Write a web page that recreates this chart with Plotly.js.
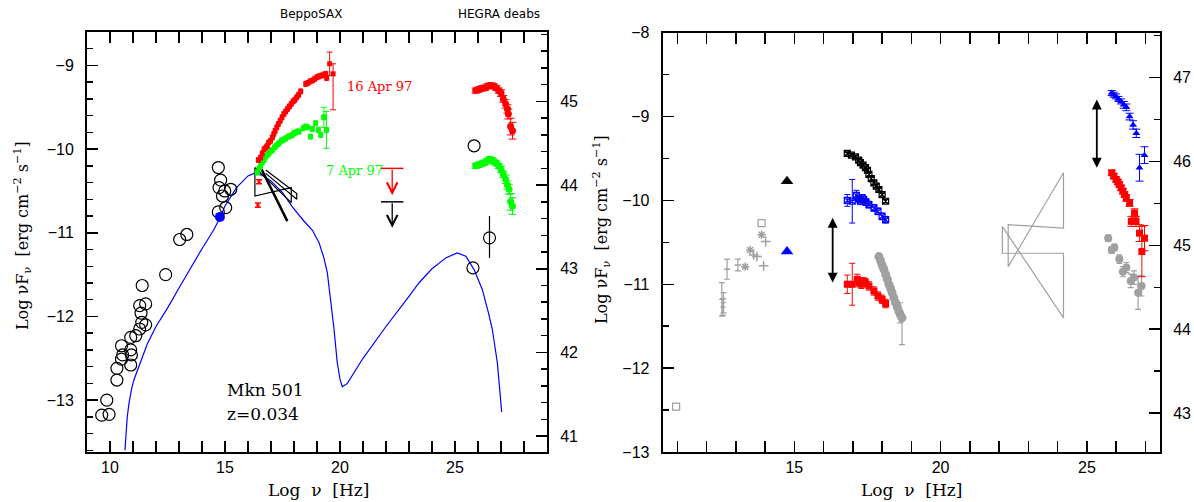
<!DOCTYPE html>
<html>
<head>
<meta charset="utf-8">
<script src="https://cdn.plot.ly/plotly-3.0.1.min.js"></script>
<style>html,body{margin:0;padding:0;background:#fff;}#chart{width:1194px;height:502px;}</style>
</head>
<body>
<div id="chart"></div>
<script>
// ---------------- LEFT PANEL DATA ----------------
const radioX = [9.64,9.96,9.86,10.3,10.3,10.5,10.5,10.55,10.9,10.93,10.9,10.9,11.12,11.29,11.38,11.55,11.35,11.29,11.55,11.4,12.42,13.03,13.34,14.71,14.81,14.74,15.25,14.99,14.89,15.03,14.71];
const radioY = [-13.18,-13.17,-13.0,-12.76,-12.62,-12.51,-12.35,-12.46,-12.40,-12.46,-12.58,-12.25,-12.23,-12.15,-12.07,-12.1,-11.96,-11.87,-11.85,-11.63,-11.5,-11.08,-11.02,-10.22,-10.37,-10.46,-10.48,-10.5,-10.56,-10.70,-10.75];
const optBlueX = [14.78];
const optBlueY = [-10.81];
const gammaCircX = [25.83,25.78,26.5];
const gammaCircY = [-9.96,-11.42,-11.06];
const gammaCircErrUp = [0,0,0.26];
const gammaCircErrDn = [0,0,0.24];

const modelX = [10.65,10.75,10.83,10.95,11.05,11.19,11.4,11.62,12.0,12.5,13.0,13.5,14.0,14.52,14.78,15.0,15.5,16.0,16.26,16.6,17.0,17.5,17.93,18.4,18.8,19.09,19.3,19.45,19.6,19.74,19.88,20.0,20.1,20.32,21.0,22.0,23.0,23.43,24.0,24.6,25.1,25.47,25.83,26.19,26.45,26.62,26.84,26.95,27.03];
const modelY = [-13.6,-13.2,-13.03,-12.85,-12.75,-12.65,-12.5,-12.33,-12.12,-11.9,-11.66,-11.42,-11.19,-10.96,-10.82,-10.68,-10.46,-10.32,-10.29,-10.31,-10.38,-10.52,-10.69,-10.85,-10.97,-11.12,-11.3,-11.48,-11.8,-12.15,-12.55,-12.75,-12.84,-12.80,-12.5,-12.12,-11.76,-11.60,-11.43,-11.30,-11.24,-11.28,-11.44,-11.68,-11.95,-12.15,-12.55,-12.85,-13.14];

const saxRedX = [16.45,16.55,16.62,16.7,16.78,16.84,16.9,16.98,17.06,17.12,17.18,17.25,17.32,17.4,17.48,17.56,17.64,17.72,17.8,17.88,17.96,18.04,18.12,18.2,18.29,18.51,18.6,18.7,18.8,18.9,19.0,19.09,19.2,19.3,19.38,19.42];
const saxRedY = [-10.13,-10.10,-10.05,-10.0,-9.98,-9.96,-9.92,-9.90,-9.86,-9.82,-9.78,-9.74,-9.70,-9.66,-9.62,-9.58,-9.55,-9.52,-9.49,-9.46,-9.43,-9.41,-9.38,-9.35,-9.31,-9.22,-9.21,-9.19,-9.18,-9.16,-9.14,-9.13,-9.12,-9.11,-9.10,-9.15];
const saxRedEndX = [19.55,19.7];
const saxRedEndY = [-8.98,-9.10];
const saxRedEndUp = [0.14,0.12];
const saxRedEndDn = [0.14,0.43];
const saxRedLowX = [16.48,16.43];
const saxRedLowY = [-10.39,-10.67];

const saxGreenX = [16.4,16.48,16.55,16.62,16.7,16.77,16.85,16.92,17.0,17.06,17.15,17.22,17.3,17.35,17.45,17.52,17.6,17.64,17.76,17.84,17.93,18.0,18.08,18.16,18.22,18.4,18.51,18.6,18.72,18.8,18.94,19.06,19.16,19.3,19.41];
const saxGreenY = [-10.28,-10.23,-10.2,-10.16,-10.13,-10.09,-10.07,-10.05,-10.02,-10.01,-9.98,-9.96,-9.94,-9.93,-9.90,-9.89,-9.88,-9.87,-9.85,-9.84,-9.83,-9.81,-9.80,-9.79,-9.79,-9.75,-9.73,-9.74,-9.85,-9.76,-9.69,-9.77,-9.83,-9.62,-9.77];
const saxGreenEndX = [19.3,19.41];
const saxGreenEndY = [-9.62,-9.77];
const saxGreenEndErr = [0.12,0.22];

const hegraRedX = [25.9,26.0,26.1,26.2,26.3,26.4,26.5,26.6,26.7,26.8,26.9,27.0,27.1,27.2,27.28,27.32,27.42,27.5];
const hegraRedY = [-9.30,-9.29,-9.28,-9.27,-9.27,-9.25,-9.24,-9.24,-9.25,-9.27,-9.30,-9.33,-9.40,-9.46,-9.52,-9.58,-9.73,-9.78];
const hegraRedErr = [0.03,0.03,0.03,0.03,0.03,0.03,0.03,0.03,0.03,0.03,0.03,0.04,0.04,0.05,0.05,0.06,0.1,0.1];
const hegraGreenX = [25.9,26.0,26.1,26.2,26.3,26.4,26.5,26.6,26.7,26.8,26.9,27.0,27.1,27.2,27.28,27.35,27.42,27.5];
const hegraGreenY = [-10.2,-10.19,-10.18,-10.17,-10.16,-10.14,-10.12,-10.13,-10.15,-10.17,-10.2,-10.24,-10.3,-10.36,-10.43,-10.48,-10.63,-10.68];
const hegraGreenErr = [0.03,0.03,0.03,0.03,0.03,0.03,0.03,0.03,0.03,0.03,0.03,0.04,0.04,0.05,0.05,0.06,0.1,0.1];

const bowtie1X = [16.30,17.88,17.88,16.30,16.30];
const bowtie1Y = [-10.22,-10.64,-10.46,-10.56,-10.22];
const bowtie2X = [16.77,18.12,18.12,16.77];
const bowtie2Y = [-10.25,-10.53,-10.60,-10.29];
const slopeLineX = [16.59,17.71];
const slopeLineY = [-10.24,-10.86];

const ulimX = [22.27,22.27];
const ulimTop = [-10.23,-10.63];
const ulimHead = [-10.55,-10.94];
const ulimColor = ['#ff0000','#000000'];

// ---------------- RIGHT PANEL DATA ----------------
const rGreySqX = [10.96,13.88];
const rGreySqY = [-12.46,-10.27];
const rGreyErrX = [12.52,12.56,12.58,12.70,13.07];
const rGreyErrY = [-11.18,-11.27,-11.22,-10.82,-10.77];
const rGreyErrV = [0.2,0.1,0.12,0.12,0.07];
const rGreyErrH = [0.05,0.05,0.05,0.1,0.12];
const rGreyStarX = [13.32,13.88,13.49];
const rGreyStarY = [-10.79,-10.41,-10.59];
const rGreyPlusX = [13.95,14.02,13.61,13.72];
const rGreyPlusY = [-10.78,-10.49,-10.65,-10.67];
const rTriBlackX = [14.75];
const rTriBlackY = [-9.77];
const rTriBlueX = [14.75];
const rTriBlueY = [-10.61];

const rXBlackX = [16.81,16.95,17.09,17.2,17.26,17.35,17.43,17.5,17.55,17.63,17.72,17.8,17.89,18.0,18.12];
const rXBlackY = [-9.44,-9.46,-9.48,-9.52,-9.55,-9.58,-9.61,-9.64,-9.69,-9.74,-9.79,-9.83,-9.87,-9.93,-10.01];
const rXBlueX = [16.81,16.98,17.12,17.2,17.26,17.32,17.37,17.45,17.55,17.72,17.86,18.0,18.12];
const rXBlueY = [-10.0,-10.01,-9.94,-9.98,-10.01,-9.97,-9.99,-10.02,-10.05,-10.09,-10.13,-10.19,-10.23];
const rXBlueErr = [0.07,0.26,0.06,0.04,0.04,0.04,0.04,0.04,0.04,0.04,0.04,0.04,0.04];
const rXRedX = [16.81,16.98,17.15,17.22,17.29,17.36,17.43,17.55,17.72,17.86,18.0,18.12];
const rXRedY = [-11.0,-11.0,-10.94,-10.98,-11.0,-10.97,-10.98,-11.02,-11.08,-11.14,-11.18,-11.23];
const rXRedErr = [0.11,0.25,0.06,0.05,0.05,0.05,0.05,0.05,0.05,0.05,0.05,0.05];
const rGreyCircX = [17.89,17.95,18.0,18.06,18.12,18.18,18.23,18.29,18.34,18.4,18.46,18.52,18.57,18.62,18.68];
const rGreyCircY = [-10.67,-10.72,-10.77,-10.82,-10.88,-10.94,-11.0,-11.05,-11.10,-11.16,-11.22,-11.27,-11.32,-11.36,-11.40];
const rGreyCircErrUp = [0,0,0,0,0,0,0,0,0,0,0,0,0,0.14,0.0];
const rGreyCircErrDn = [0,0,0,0,0,0,0,0,0,0,0,0,0,0.1,0.32];

const rBowtie1X = [22.11,24.2,24.2,22.11,22.11];
const rBowtie1Y = [-10.31,-11.40,-10.63,-10.63,-10.31];
const rBowtie2X = [22.31,24.2,24.2,22.31,22.31];
const rBowtie2Y = [-10.79,-9.67,-10.33,-10.29,-10.79];

const rHBlueX = [25.85,25.92,26.0,26.08,26.17,26.26,26.35,26.46,26.58,26.69,26.8,26.97];
const rHBlueY = [-8.72,-8.74,-8.76,-8.79,-8.82,-8.86,-8.89,-9.0,-9.10,-9.20,-9.61,-9.46];
const rHBlueErr = [0.03,0.03,0.03,0.03,0.03,0.04,0.04,0.04,0.05,0.05,0.16,0.1];
const rHRedX = [25.85,25.92,26.0,26.06,26.11,26.17,26.23,26.29,26.35,26.46,26.52,26.63,26.68,26.8,26.97,26.88];
const rHRedY = [-9.67,-9.71,-9.75,-9.78,-9.81,-9.85,-9.89,-9.93,-9.97,-10.03,-10.25,-10.15,-10.25,-10.39,-10.45,-10.61];
const rHRedErr = [0.03,0.03,0.03,0.03,0.03,0.03,0.03,0.03,0.04,0.04,0.06,0.05,0.06,0.1,0.15,0.3];
const rHGreyX = [25.73,25.85,25.94,26.11,26.23,26.35,26.5,26.61,26.75,26.87];
const rHGreyY = [-10.45,-10.59,-10.56,-10.70,-10.85,-10.80,-10.96,-10.92,-11.10,-11.02];
const rHGreyErr = [0.04,0.04,0.04,0.05,0.06,0.06,0.08,0.08,0.2,0.12];

const dblArrowX = [16.31,25.34];
const dblArrowTop = [-10.19,-8.78];
const dblArrowBot = [-10.98,-9.61];

// ---------------- TRACES ----------------
const GREY = '#a0a0a0';
const t = [];
function sc(o){ t.push(Object.assign({type:'scatter', hoverinfo:'skip', showlegend:false, cliponaxis:false}, o)); }

// left panel
sc({x:modelX, y:modelY, mode:'lines', line:{color:'#0000ff', width:1.2}, xaxis:'x', yaxis:'y'});
sc({x:radioX, y:radioY, mode:'markers', marker:{symbol:'circle-open', size:12, color:'#000', line:{width:1.2, color:'#000'}}, xaxis:'x', yaxis:'y'});
sc({x:optBlueX, y:optBlueY, mode:'markers', marker:{symbol:'circle', size:10, color:'#0000ff'}, xaxis:'x', yaxis:'y'});
sc({x:gammaCircX, y:gammaCircY, mode:'markers', marker:{symbol:'circle-open', size:12, color:'#000', line:{width:1.2,color:'#000'}},
    error_y:{type:'data', symmetric:false, array:gammaCircErrUp, arrayminus:gammaCircErrDn, color:'#000', thickness:1.2, width:0}, xaxis:'x', yaxis:'y'});
sc({x:bowtie1X, y:bowtie1Y, mode:'lines', line:{color:'#000', width:1.2}, xaxis:'x', yaxis:'y'});
sc({x:bowtie2X, y:bowtie2Y, mode:'lines', line:{color:'#000', width:1.2}, xaxis:'x', yaxis:'y'});
sc({x:slopeLineX, y:slopeLineY, mode:'lines', line:{color:'#000', width:2.5}, xaxis:'x', yaxis:'y'});
sc({x:saxGreenX, y:saxGreenY, mode:'markers', marker:{symbol:'square', size:5, color:'#00ff00'},
    error_y:{type:'constant', value:0.03, color:'#00ff00', thickness:1, width:2}, error_x:{type:'constant', value:0.04, color:'#00ff00', thickness:1, width:0}, xaxis:'x', yaxis:'y'});
sc({x:saxGreenEndX, y:saxGreenEndY, mode:'markers', marker:{symbol:'square', size:5, color:'#00ff00'},
    error_y:{type:'data', array:saxGreenEndErr, color:'#00ff00', thickness:1, width:3}, xaxis:'x', yaxis:'y'});
sc({x:saxRedX, y:saxRedY, mode:'markers', marker:{symbol:'square', size:5, color:'#ff0000'},
    error_y:{type:'constant', value:0.03, color:'#ff0000', thickness:1, width:2}, error_x:{type:'constant', value:0.04, color:'#ff0000', thickness:1, width:0}, xaxis:'x', yaxis:'y'});
sc({x:saxRedEndX, y:saxRedEndY, mode:'markers', marker:{symbol:'square', size:5, color:'#ff0000'},
    error_y:{type:'data', symmetric:false, array:saxRedEndUp, arrayminus:saxRedEndDn, color:'#ff0000', thickness:1, width:3}, xaxis:'x', yaxis:'y'});
sc({x:saxRedLowX, y:saxRedLowY, mode:'markers', marker:{symbol:'square', size:3, color:'#ff0000'},
    error_y:{type:'constant', value:0.025, color:'#ff0000', thickness:1.5, width:3}, xaxis:'x', yaxis:'y'});
sc({x:hegraRedX, y:hegraRedY, mode:'markers', marker:{symbol:'circle', size:7, color:'#ff0000'},
    error_y:{type:'data', array:hegraRedErr, color:'#ff0000', thickness:1, width:4}, xaxis:'x', yaxis:'y'});
sc({x:hegraGreenX, y:hegraGreenY, mode:'markers', marker:{symbol:'circle', size:7, color:'#00ff00'},
    error_y:{type:'data', array:hegraGreenErr, color:'#00ff00', thickness:1, width:4}, xaxis:'x', yaxis:'y'});
for (let i=0;i<ulimX.length;i++){
  sc({x:[ulimX[i]], y:[ulimTop[i]], mode:'markers', marker:{symbol:'line-ew', size:16, color:ulimColor[i], line:{width:1.5, color:ulimColor[i]}}, xaxis:'x', yaxis:'y'});
}
// dummy for luminosity axis
sc({x:[null], y:[null], mode:'markers', xaxis:'x', yaxis:'y3'});

// right panel
sc({x:rBowtie1X, y:rBowtie1Y, mode:'lines', line:{color:GREY, width:1.2}, xaxis:'x2', yaxis:'y2'});
sc({x:rBowtie2X, y:rBowtie2Y, mode:'lines', line:{color:GREY, width:1.2}, xaxis:'x2', yaxis:'y2'});
sc({x:rGreySqX, y:rGreySqY, mode:'markers', marker:{symbol:'square-open', size:7, color:GREY, line:{width:1.2,color:GREY}}, xaxis:'x2', yaxis:'y2'});
sc({x:rGreyErrX, y:rGreyErrY, mode:'markers', marker:{symbol:'line-ew', size:4, color:GREY, line:{width:1, color:GREY}},
    error_y:{type:'data', array:rGreyErrV, color:GREY, thickness:1.2, width:3}, error_x:{type:'data', array:rGreyErrH, color:GREY, thickness:1.2, width:0}, xaxis:'x2', yaxis:'y2'});
sc({x:rGreyStarX, y:rGreyStarY, mode:'markers', marker:{symbol:'asterisk-open', size:7, color:GREY, line:{width:1.5, color:GREY}}, xaxis:'x2', yaxis:'y2'});
sc({x:rGreyPlusX, y:rGreyPlusY, mode:'markers', marker:{symbol:'cross-thin-open', size:7, color:GREY, line:{width:1.5, color:GREY}}, xaxis:'x2', yaxis:'y2'});
sc({x:rTriBlackX, y:rTriBlackY, mode:'markers', marker:{symbol:'triangle-up', size:11, color:'#000'}, xaxis:'x2', yaxis:'y2'});
sc({x:rTriBlueX, y:rTriBlueY, mode:'markers', marker:{symbol:'triangle-up', size:11, color:'#0000ff'}, xaxis:'x2', yaxis:'y2'});
sc({x:rXBlackX, y:rXBlackY, mode:'markers', marker:{symbol:'square-x-open', size:6, color:'#000', line:{width:1.2,color:'#000'}},
    error_y:{type:'constant', value:0.02, color:'#000', thickness:1, width:2}, xaxis:'x2', yaxis:'y2'});
sc({x:rXBlueX, y:rXBlueY, mode:'markers', marker:{symbol:'square-x-open', size:6, color:'#0000ff', line:{width:1.2,color:'#0000ff'}},
    error_y:{type:'data', array:rXBlueErr, color:'#0000ff', thickness:1, width:3}, xaxis:'x2', yaxis:'y2'});
sc({x:rXRedX, y:rXRedY, mode:'markers', marker:{symbol:'square', size:7, color:'#ff0000'},
    error_y:{type:'data', array:rXRedErr, color:'#ff0000', thickness:1, width:3}, xaxis:'x2', yaxis:'y2'});
sc({x:rGreyCircX, y:rGreyCircY, mode:'markers', marker:{symbol:'circle', size:9, color:GREY},
    error_y:{type:'data', symmetric:false, array:rGreyCircErrUp, arrayminus:rGreyCircErrDn, color:GREY, thickness:1.2, width:3}, xaxis:'x2', yaxis:'y2'});
sc({x:rHGreyX, y:rHGreyY, mode:'markers', marker:{symbol:'circle', size:8, color:GREY},
    error_y:{type:'data', array:rHGreyErr, color:GREY, thickness:1.2, width:3}, xaxis:'x2', yaxis:'y2'});
sc({x:rHRedX, y:rHRedY, mode:'markers', marker:{symbol:'square', size:7, color:'#ff0000'},
    error_y:{type:'data', array:rHRedErr, color:'#ff0000', thickness:1, width:4}, xaxis:'x2', yaxis:'y2'});
sc({x:rHBlueX, y:rHBlueY, mode:'markers', marker:{symbol:'triangle-up', size:7, color:'#0000ff'},
    error_y:{type:'data', array:rHBlueErr, color:'#0000ff', thickness:1, width:4}, xaxis:'x2', yaxis:'y2'});
sc({x:[null], y:[null], mode:'markers', xaxis:'x2', yaxis:'y4'});

// ---------------- LAYOUT ----------------
const tickFont = {family:'Liberation Sans, Arial, sans-serif', size:16, color:'#000'};
const serif = 'DejaVu Serif, serif';
function xa(domain, range, anchor){
  return {domain:domain, range:range, anchor:anchor, tickmode:'linear', tick0:0, dtick:5, ticks:'inside', ticklen:11, tickwidth:1.5,
    tickcolor:'#000', mirror:'allticks', showline:true, linewidth:2, linecolor:'#000', showgrid:false, zeroline:false,
    minor:{ticks:'inside', tick0:0, dtick:1, ticklen:6, tickwidth:1.5, tickcolor:'#000', showgrid:false},
    tickfont:tickFont, automargin:false, fixedrange:true};
}
function ya(domain, range, anchor, minorDt, side, overlay){
  const o = {domain:domain, range:range, anchor:anchor, tickmode:'linear', tick0:0, dtick:1, ticks:'inside', ticklen:11, tickwidth:1.5,
    tickcolor:'#000', showline:true, linewidth:2, linecolor:'#000', showgrid:false, zeroline:false, side:side,
    minor:{ticks:'inside', tick0:0, dtick:minorDt, ticklen:6, tickwidth:1.5, tickcolor:'#000', showgrid:false},
    tickfont:tickFont, automargin:false, fixedrange:true, ticklabelstandoff:8};
  if (overlay) { o.overlaying = overlay; delete o.domain; }
  return o;
}
const dom1x = [87/1194, 547/1194], dom1y = [50/502, 470/502];
const dom2x = [662.7/1194, 1160/1194], dom2y = [50/502, 469.3/502];

const ann = [];
function txt(text, x, y, xref, yref, opts){
  ann.push(Object.assign({text:text, x:x, y:y, xref:xref, yref:yref, showarrow:false, xanchor:'center', yanchor:'middle'}, opts));
}
txt('BeppoSAX', 311/1194, 1-14/502, 'paper','paper', {font:{family:'DejaVu Sans, sans-serif', size:12, color:'#000'}});
txt('HEGRA deabs', 499/1194, 1-14/502, 'paper','paper', {font:{family:'DejaVu Sans, sans-serif', size:12, color:'#000'}});
txt('16 Apr 97', 21.7, -9.25, 'x','y', {font:{family:serif, size:13, color:'#ff0000'}});
txt('7 Apr 97', 20.65, -10.25, 'x','y', {font:{family:serif, size:13, color:'#00ff00'}});
txt('Mkn 501', 15.0, -12.88, 'x','y', {xanchor:'left', font:{family:serif, size:17, color:'#000'}});
txt('z=0.034', 15.0, -13.16, 'x','y', {xanchor:'left', font:{family:serif, size:17, color:'#000'}});
txt('Log  ν  [Hz]', 318/1194, 1-490/502, 'paper','paper', {font:{family:serif, size:17, color:'#000'}});
txt('Log  ν  [Hz]', 911/1194, 1-490/502, 'paper','paper', {font:{family:serif, size:17, color:'#000'}});
const ytitle = 'Log νF<sub>ν</sub>  [erg cm<sup>−2</sup> s<sup>−1</sup>]';
txt(ytitle, 22/1194, 1-236/502, 'paper','paper', {textangle:-90, font:{family:serif, size:16, color:'#000'}});
txt(ytitle, 601/1194, 1-230/502, 'paper','paper', {textangle:-90, font:{family:serif, size:16, color:'#000'}});

for (let i=0;i<ulimX.length;i++){
  ann.push({x:ulimX[i], y:ulimHead[i], ax:ulimX[i], ay:ulimTop[i], xref:'x', yref:'y', axref:'x', ayref:'y', text:'', showarrow:true,
    arrowhead:5, arrowsize:1.6, arrowwidth:1.3, arrowcolor:ulimColor[i], standoff:0});
}
for (let i=0;i<dblArrowX.length;i++){
  ann.push({x:dblArrowX[i], y:dblArrowBot[i], ax:dblArrowX[i], ay:dblArrowTop[i], xref:'x2', yref:'y2', axref:'x2', ayref:'y2', text:'', showarrow:true,
    arrowhead:2, startarrowhead:2, arrowside:'end+start', arrowsize:1.1, startarrowsize:1.1, arrowwidth:1.8, arrowcolor:'#000', standoff:0, startstandoff:0});
}

const layout = {
  width:1194, height:502, margin:{l:0,r:0,t:0,b:0}, paper_bgcolor:'#fff', plot_bgcolor:'rgba(0,0,0,0)', showlegend:false,
  xaxis: xa(dom1x, [9,29], 'y'),
  yaxis: ya(dom1y, [-13.62,-8.6], 'x', 0.2, 'left'),
  yaxis3: ya(dom1y, [40.81,45.83], 'x', 0.2, 'right', 'y'),
  xaxis2: xa(dom2x, [10.5,27.5], 'y2'),
  yaxis2: ya(dom2y, [-13,-8], 'x2', 0.5, 'left'),
  yaxis4: ya(dom2y, [42.536,47.536], 'x2', 0.5, 'right', 'y2'),
  annotations: ann
};
Plotly.newPlot('chart', t, layout, {staticPlot:true, displayModeBar:false});
</script>
</body>
</html>
